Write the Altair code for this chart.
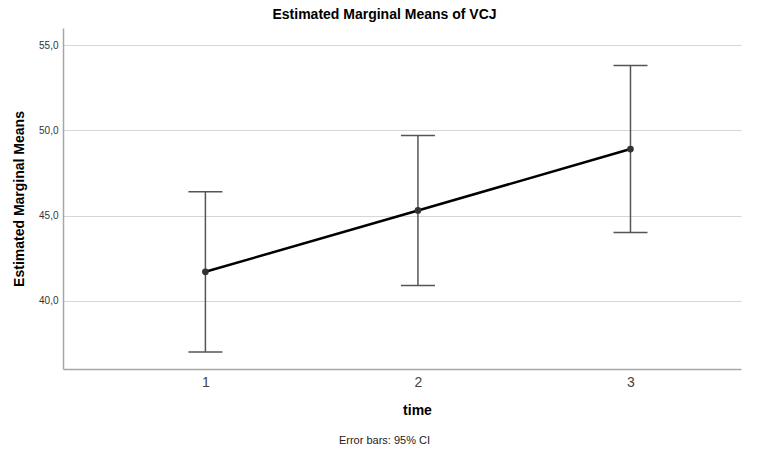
import altair as alt
import pandas as pd

times = [1, 2, 3]
means = [41.7, 45.3, 48.9]
lower = [37.0, 40.9, 44.0]
upper = [46.4, 49.7, 53.8]
y_ticks = [40, 45, 50, 55]

df = pd.DataFrame({"time": times, "mean": means, "lo": lower, "hi": upper})
note = pd.DataFrame({"t": ["Error bars: 95% CI"]})

FONT = "Liberation Sans"
xscale = alt.Scale(domain=[0.33, 3.52], nice=False, zero=False)
yscale = alt.Scale(domain=[36, 56], nice=False, zero=False)

xaxis = alt.Axis(values=times, format="d", grid=False, ticks=False,
                 labelFontSize=14, labelColor="#444444", labelFont=FONT, labelPadding=6,
                 domainColor="#a6a6a6", domainWidth=1.5,
                 title="time", titleFont=FONT, titleFontSize=14, titleFontWeight="bold",
                 titleColor="#000000", titlePadding=14, titleX=354)
yaxis = alt.Axis(values=y_ticks, grid=True, gridColor="#d6d6d6", gridWidth=1.2, ticks=False,
                 labelExpr="replace(format(datum.value, '.1f'), '.', ',')",
                 labelFontSize=10, labelColor="#333333", labelFont=FONT, labelPadding=5,
                 domainColor="#a6a6a6", domainWidth=1.5,
                 title="Estimated Marginal Means", titleFont=FONT, titleFontSize=14,
                 titleFontWeight="bold", titleColor="#000000", titlePadding=12)

base = alt.Chart(df)
x = alt.X("time:Q", scale=xscale, axis=xaxis)

rules = base.mark_rule(color="#555555", strokeWidth=1.5).encode(
    x=x, y=alt.Y("lo:Q", scale=yscale, axis=yaxis), y2="hi:Q")
cap_hi = base.mark_tick(orient="horizontal", size=34, thickness=1.5, color="#555555", opacity=1).encode(
    x="time:Q", y="hi:Q")
cap_lo = base.mark_tick(orient="horizontal", size=34, thickness=1.5, color="#555555", opacity=1).encode(
    x="time:Q", y="lo:Q")
line = base.mark_line(color="black", strokeWidth=2.5).encode(x="time:Q", y="mean:Q")
pts = base.mark_circle(size=45, color="#333333", opacity=1).encode(x="time:Q", y="mean:Q")

foot = alt.Chart(note).mark_text(font=FONT, fontSize=11, color="#222222", baseline="middle",
                                 align="center").encode(
    text="t:N", x=alt.value(321.5), y=alt.value(413))

chart = alt.layer(rules, cap_hi, cap_lo, line, pts, foot).properties(
    width=678, height=341,
    autosize=alt.AutoSizeParams(type="none"),
    padding={"left": 63, "top": 28, "right": 28, "bottom": 86},
    background="white",
    title=alt.TitleParams("Estimated Marginal Means of VCJ", font=FONT, fontSize=14,
                          fontWeight="bold", color="black", anchor="middle",
                          offset=6, dx=-17.5),
).configure_view(stroke=None)

chart.save("out.html", embed_options={"renderer": "svg", "actions": False})
